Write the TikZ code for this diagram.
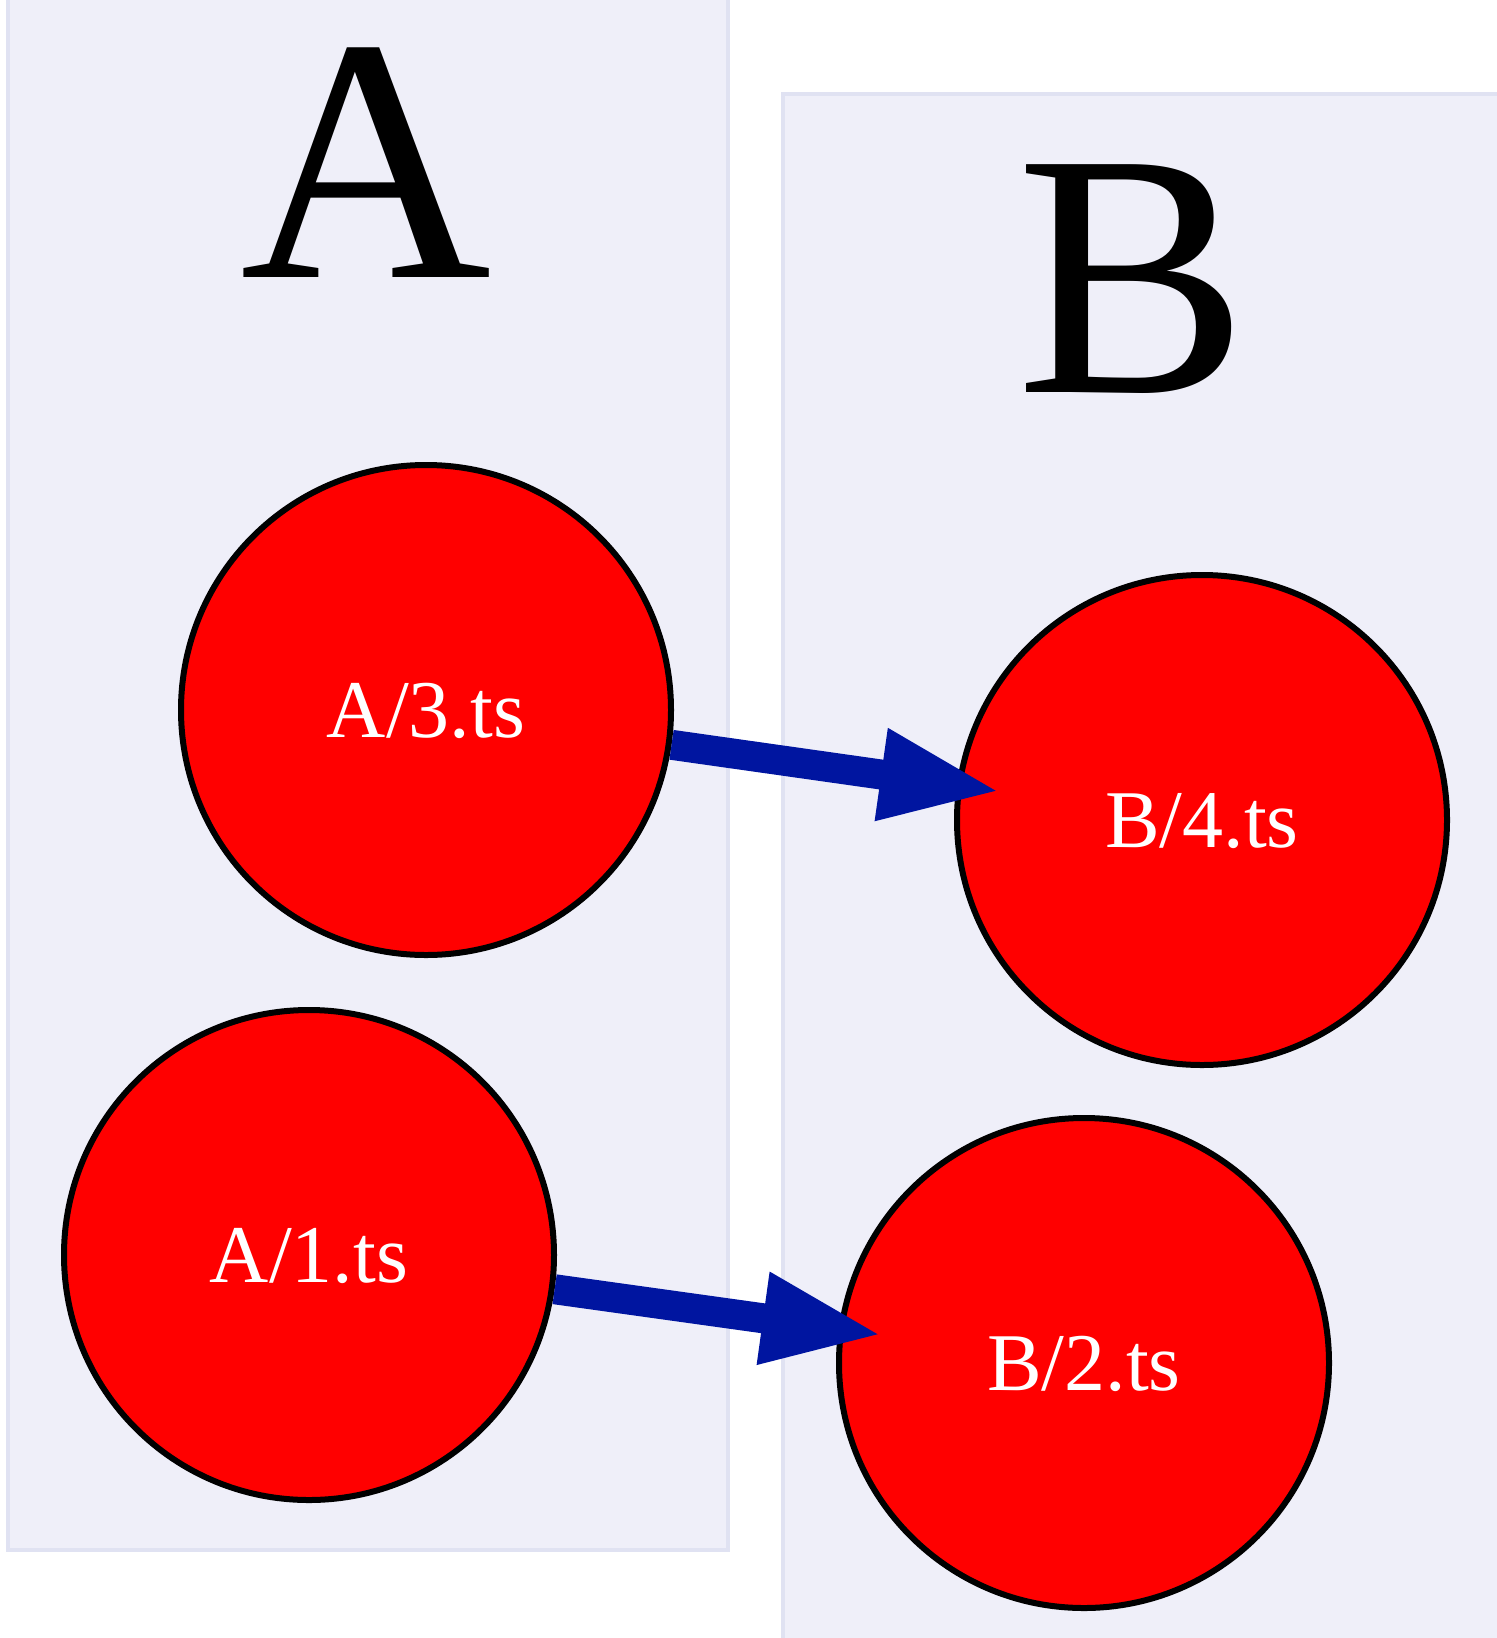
\documentclass[tikz,border=0pt]{standalone}
\usepackage{fontspec}
\setmainfont{Liberation Serif}
\usepackage{xcolor}
\usetikzlibrary{arrows.meta}
\definecolor{clusterfill}{RGB}{239,239,249}
\definecolor{clusterline}{RGB}{224,226,242}
\definecolor{edgeblue}{RGB}{0,21,160}

\begin{document}
\begin{tikzpicture}[
  x=0.5pt,y=-0.5pt,
  cluster/.style={draw=clusterline,fill=clusterfill,line width=2pt},
  title/.style={font=\fontsize{174}{174}\selectfont,anchor=base,inner sep=0pt},
  file/.style={circle,draw=black,fill=red,line width=3pt,minimum size=245pt,inner sep=0pt,text=white,text depth=0pt,font=\fontsize{41}{41}\selectfont},
  dep/.style={-{Triangle[length=61pt,width=42pt]},line width=15pt,edgeblue,shorten >=-23pt}
]
\useasboundingbox (0,0) rectangle (1496,1638);
% clusters
\path[cluster] (8,-4) rectangle (728,1550);
\path[cluster] (783,94) rectangle (1510,1660);
\node[title] (ta) at (366,277) {A};
\node[title] (tb) at (1133,392) {B};
% files
\node[file] (a3) at (426,710) {A/3.ts};
\node[file] (a1) at (309,1255) {A/1.ts};
\node[file] (b4) at (1202,820) {B/4.ts};
\node[file] (b2) at (1084,1363) {B/2.ts};
% imports
\draw[dep] (a3) -- (b4);
\draw[dep] (a1) -- (b2);
\end{tikzpicture}
\end{document}
